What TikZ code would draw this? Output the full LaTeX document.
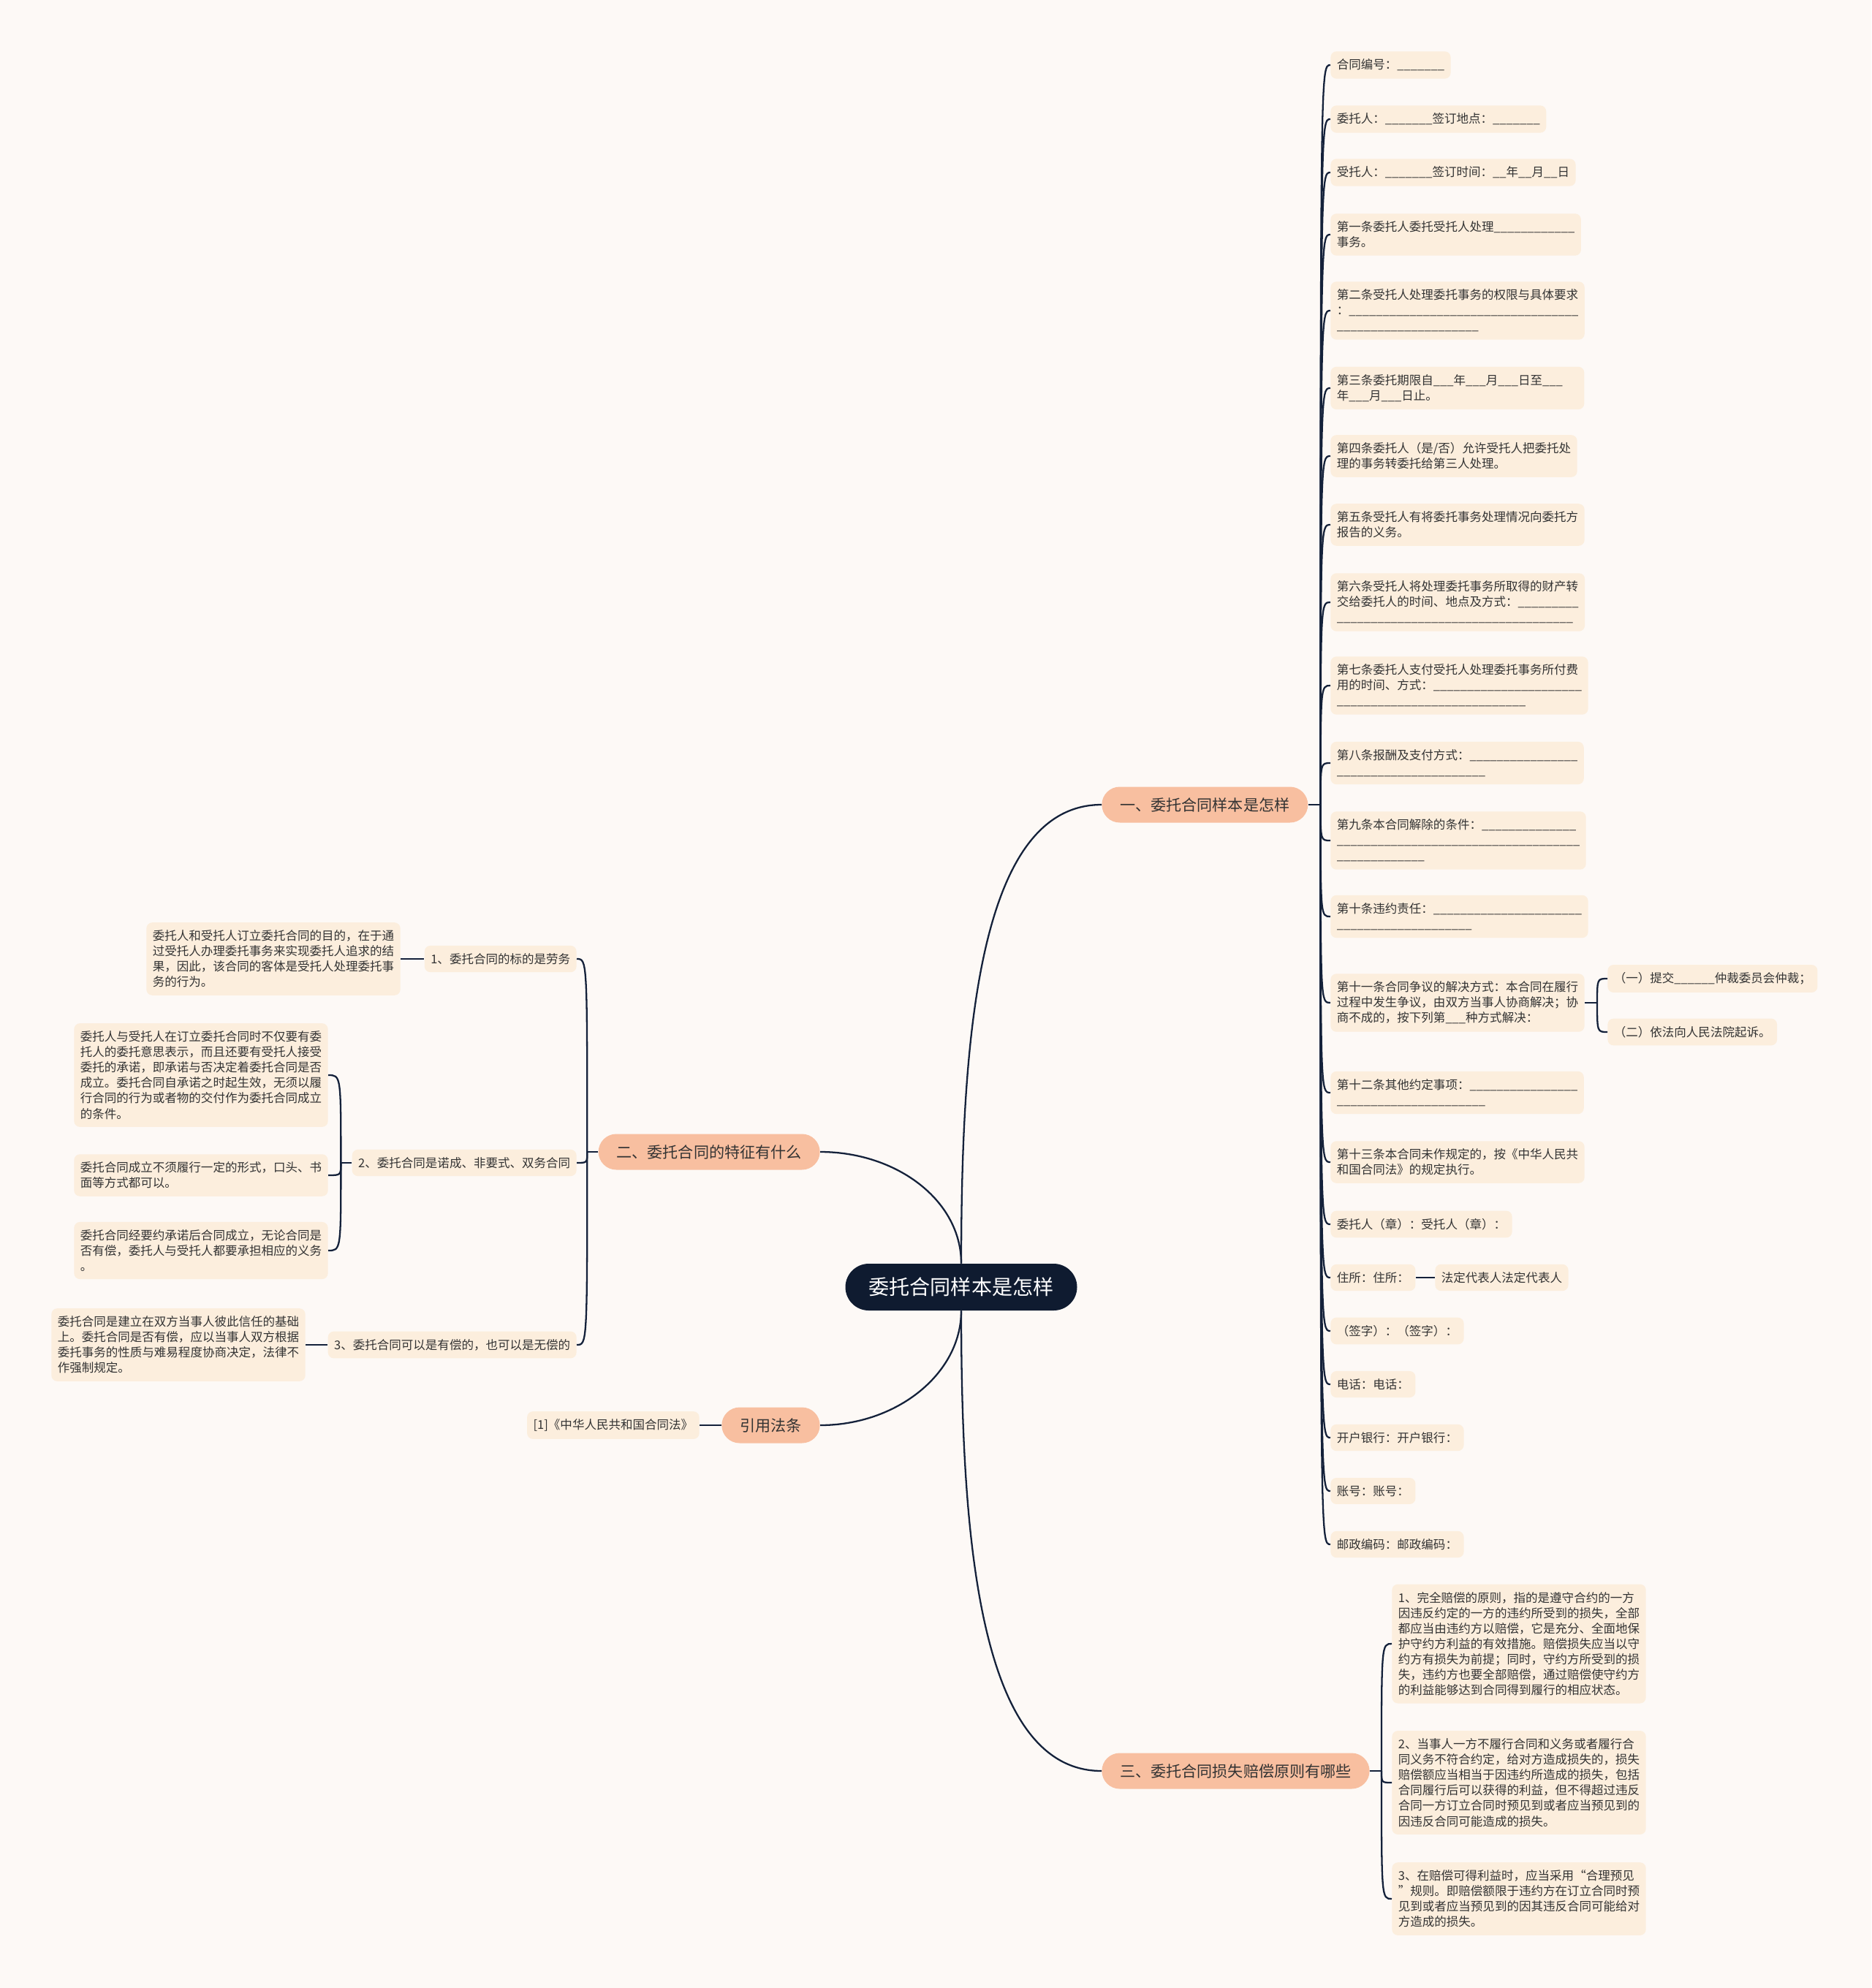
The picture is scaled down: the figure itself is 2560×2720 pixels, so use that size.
\documentclass[tikz,border=0pt]{standalone}
\usepackage{fontspec}
\newfontfamily\cjk{Noto Sans CJK SC}
\ExplSyntaxOn
\NewDocumentCommand\blanks{m}{\prg_replicate:nn{#1}{\_}}
\ExplSyntaxOff
\definecolor{bgcol}{HTML}{FDF9F6}
\definecolor{leafcol}{HTML}{FCEEDD}
\definecolor{branchcol}{HTML}{F8BFA0}
\definecolor{rootcol}{HTML}{0F1B30}
\definecolor{linecol}{HTML}{14213A}
\definecolor{txtcol}{HTML}{333333}
\tikzset{
  leaf/.style={fill=leafcol, text=txtcol, rounded corners=0.16cm, inner xsep=0.17cm, inner ysep=0.21cm, align=left, font=\cjk\fontsize{9.4}{12}\selectfont},
  branch/.style={fill=branchcol, text=txtcol, rounded corners=0.49cm, minimum height=0.98cm, inner xsep=0.5cm, font=\cjk\fontsize{12}{14}\selectfont},
  rootnode/.style={fill=rootcol, text=white, rounded corners=0.64cm, minimum height=1.28cm, inner xsep=0.64cm, font=\cjk\fontsize{16}{18}\selectfont},
  link/.style={draw=linecol, line width=1.3pt},
}
\begin{document}
\begin{tikzpicture}[x=0.02cm, y=-0.02cm]
    \useasboundingbox (0,0) rectangle (2560,2720);
    \fill[bgcol] (0,0) rectangle (2560,2720);

    \node[rootnode] (root) at (1315,1761) {委托合同样本是怎样};
    \node[branch, anchor=west] (b1) at (1507,1101) {一、委托合同样本是怎样};
    \node[branch, anchor=east] (b2) at (1122,1576) {二、委托合同的特征有什么};
    \node[branch, anchor=east] (b4) at (1122,1950) {引用法条};
    \node[branch, anchor=west] (b3) at (1507,2423) {三、委托合同损失赔偿原则有哪些};

    \node[leaf, anchor=west] (r1) at (1820,89) {合同编号：\blanks{7}};
    \node[leaf, anchor=west] (r2) at (1820,163) {委托人：\blanks{7}签订地点：\blanks{7}};
    \node[leaf, anchor=west] (r3) at (1820,236) {受托人：\blanks{7}签订时间：\blanks{2}年\blanks{2}月\blanks{2}日};
    \node[leaf, anchor=west] (r4) at (1820,321) {第一条委托人委托受托人处理\blanks{12}\\事务。};
    \node[leaf, anchor=west] (r5) at (1820,425) {第二条受托人处理委托事务的权限与具体要求\\：\blanks{34}\\\blanks{21}};
    \node[leaf, anchor=west, text width=6.6cm] (r6) at (1820,531) {第三条委托期限自\blanks{3}年\blanks{3}月\blanks{3}日至\blanks{3}\\年\blanks{3}月\blanks{3}日止。};
    \node[leaf, anchor=west] (r7) at (1820,624) {第四条委托人（是/否）允许受托人把委托处\\理的事务转委托给第三人处理。};
    \node[leaf, anchor=west] (r8) at (1820,718) {第五条受托人有将委托事务处理情况向委托方\\报告的义务。};
    \node[leaf, anchor=west] (r9) at (1820,824) {第六条受托人将处理委托事务所取得的财产转\\交给委托人的时间、地点及方式：\blanks{9}\\\blanks{35}};
    \node[leaf, anchor=west] (r10) at (1820,938) {第七条委托人支付受托人处理委托事务所付费\\用的时间、方式：\blanks{22}\\\blanks{28}};
    \node[leaf, anchor=west] (r11) at (1820,1044) {第八条报酬及支付方式：\blanks{16}\\\blanks{22}};
    \node[leaf, anchor=west] (r12) at (1820,1150) {第九条本合同解除的条件：\blanks{14}\\\blanks{36}\\\blanks{13}};
    \node[leaf, anchor=west] (r13) at (1820,1254) {第十条违约责任：\blanks{22}\\\blanks{20}};
    \node[leaf, anchor=west] (r14) at (1820,1372) {第十一条合同争议的解决方式：本合同在履行\\过程中发生争议，由双方当事人协商解决；协\\商不成的，按下列第\blanks{3}种方式解决：};
    \node[leaf, anchor=west] (r15) at (1820,1495) {第十二条其他约定事项：\blanks{16}\\\blanks{22}};
    \node[leaf, anchor=west] (r16) at (1820,1590) {第十三条本合同未作规定的，按《中华人民共\\和国合同法》的规定执行。};
    \node[leaf, anchor=west] (r17) at (1820,1675) {委托人（章）：受托人（章）：};
    \node[leaf, anchor=west] (r18) at (1820,1748) {住所：住所：};
    \node[leaf, anchor=west] (r19) at (1820,1821) {（签字）：（签字）：};
    \node[leaf, anchor=west] (r20) at (1820,1894) {电话：电话：};
    \node[leaf, anchor=west] (r21) at (1820,1967) {开户银行：开户银行：};
    \node[leaf, anchor=west] (r22) at (1820,2040) {账号：账号：};
    \node[leaf, anchor=west] (r23) at (1820,2113) {邮政编码：邮政编码：};

    \node[leaf, anchor=west] (s1) at (2199,1339) {（一）提交\blanks{6}仲裁委员会仲裁；};
    \node[leaf, anchor=west] (s2) at (2199,1412) {（二）依法向人民法院起诉。};
    \node[leaf, anchor=west] (s3) at (1963,1748) {法定代表人法定代表人};

    \node[leaf, anchor=east] (c1) at (789,1312) {1、委托合同的标的是劳务};
    \node[leaf, anchor=east] (c2) at (789,1591) {2、委托合同是诺成、非要式、双务合同};
    \node[leaf, anchor=east] (c3) at (789,1840) {3、委托合同可以是有偿的，也可以是无偿的};
    \node[leaf, anchor=east] (d1) at (548,1312) {委托人和受托人订立委托合同的目的，在于通\\过受托人办理委托事务来实现委托人追求的结\\果，因此，该合同的客体是受托人处理委托事\\务的行为。};
    \node[leaf, anchor=east] (d2a) at (449,1471) {委托人与受托人在订立委托合同时不仅要有委\\托人的委托意思表示，而且还要有受托人接受\\委托的承诺，即承诺与否决定着委托合同是否\\成立。委托合同自承诺之时起生效，无须以履\\行合同的行为或者物的交付作为委托合同成立\\的条件。};
    \node[leaf, anchor=east] (d2b) at (449,1608) {委托合同成立不须履行一定的形式，口头、书\\面等方式都可以。};
    \node[leaf, anchor=east] (d2c) at (449,1711) {委托合同经要约承诺后合同成立，无论合同是\\否有偿，委托人与受托人都要承担相应的义务\\。};
    \node[leaf, anchor=east] (d3) at (418,1840) {委托合同是建立在双方当事人彼此信任的基础\\上。委托合同是否有偿，应以当事人双方根据\\委托事务的性质与难易程度协商决定，法律不\\作强制规定。};
    \node[leaf, anchor=east] (law) at (957,1950) {[1]《中华人民共和国合同法》};

    \node[leaf, anchor=west] (e1) at (1904,2249) {1、完全赔偿的原则，指的是遵守合约的一方\\因违反约定的一方的违约所受到的损失，全部\\都应当由违约方以赔偿，它是充分、全面地保\\护守约方利益的有效措施。赔偿损失应当以守\\约方有损失为前提；同时，守约方所受到的损\\失，违约方也要全部赔偿，通过赔偿使守约方\\的利益能够达到合同得到履行的相应状态。};
    \node[leaf, anchor=west] (e2) at (1904,2439) {2、当事人一方不履行合同和义务或者履行合\\同义务不符合约定，给对方造成损失的，损失\\赔偿额应当相当于因违约所造成的损失，包括\\合同履行后可以获得的利益，但不得超过违反\\合同一方订立合同时预见到或者应当预见到的\\因违反合同可能造成的损失。};
    \node[leaf, anchor=west] (e3) at (1904,2598) {3、在赔偿可得利益时，应当采用“合理预见\\”规则。即赔偿额限于违约方在订立合同时预\\见到或者应当预见到的因其违反合同可能给对\\方造成的损失。};

    \coordinate (j1) at ([xshift=0.34cm]b1.east);
    \coordinate (j2) at ([xshift=-0.3cm]b2.west);
    \coordinate (j2b) at ([xshift=-0.3cm]c2.west);
    \coordinate (j3) at ([xshift=0.32cm]b3.east);
    \coordinate (j14) at ([xshift=0.34cm]r14.east);

    \draw[link] (root.north) .. controls +(0,-315) and +(-167,0) .. (b1.west);
    \draw[link] (root.north) .. controls +(0,-86) and +(105,0) .. (b2.east);
    \draw[link] (root.south) .. controls +(0,86) and +(105,0) .. (b4.east);
    \draw[link] (root.south) .. controls +(0,314) and +(-167,0) .. (b3.west);

    \draw[link] (b1.east) -- (j1);
    \foreach \i in {1,...,23}
        \draw[link] (j1) .. controls (j1 |- r\i.west) .. (r\i.west);
    \draw[link] (r14.east) -- (j14);
    \draw[link] (j14) .. controls (j14 |- s1.west) .. (s1.west);
    \draw[link] (j14) .. controls (j14 |- s2.west) .. (s2.west);
    \draw[link] (r18) -- (s3);

    \draw[link] (b2.west) -- (j2);
    \foreach \n in {c1,c2,c3}
        \draw[link] (j2) .. controls (j2 |- \n.east) .. (\n.east);
    \draw[link] (d1) -- (c1);
    \draw[link] (c2.west) -- (j2b);
    \foreach \n in {d2a,d2b,d2c}
        \draw[link] (j2b) .. controls (j2b |- \n.east) .. (\n.east);
    \draw[link] (d3) -- (c3);
    \draw[link] (law) -- (b4);

    \draw[link] (b3.east) -- (j3);
    \foreach \n in {e1,e2,e3}
        \draw[link] (j3) .. controls (j3 |- \n.west) .. (\n.west);
\end{tikzpicture}
\end{document}
